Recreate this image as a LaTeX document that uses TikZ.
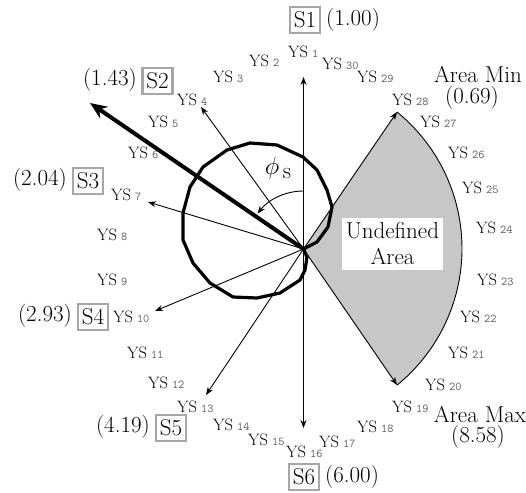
\documentclass[tikz,border=0pt]{standalone}
\usetikzlibrary{arrows.meta}
\newcommand\ysn[1]{YS\hspace{4pt}{\ttfamily\fontsize{12}{13}\selectfont\color{black!65}#1}}
\begin{document}
\begin{tikzpicture}[x=1pt,y=-1pt,
  big/.style={font=\fontsize{23}{26}\selectfont, inner sep=0pt},
  sbox/.style={big, draw=black!35, line width=2.6pt, minimum width=30pt, minimum height=26pt},
  ysl/.style={font=\fontsize{16.5}{18}\selectfont, inner sep=0pt, anchor=base west},
  thinarrow/.style={line width=0.9pt, -{Stealth[length=8pt,width=6pt]}},
  thickarrow/.style={line width=4pt, -{Stealth[length=17pt,width=14pt]}},
  polar/.style={line width=3.2pt, line join=round}
]
\useasboundingbox (0,0) rectangle (526,492);
\coordinate (O) at (303.5,249);
% tips
\coordinate (tup) at (303.5,77);
\coordinate (tdown) at (303.5,428);
\coordinate (t4) at (201,107);
\coordinate (t2) at (90,103);
\coordinate (t7) at (148,202);
\coordinate (t10) at (155,311);
\coordinate (t13) at (206,395);
\coordinate (tmin) at (397,112);
\coordinate (tmax) at (397,385);

% undefined area
\fill[black!22] (O) -- (tmin) arc[start angle=-50.9, end angle=50.9, radius=176] -- cycle;
\draw[line width=0.9pt] (tmin) arc[start angle=-50.9, end angle=50.9, radius=176];
\draw[thinarrow] (O) -- (tmin);
\draw[thinarrow] (O) -- (tmax);

% arrows
\draw[thinarrow] (O) -- (tup);
\draw[thinarrow] (O) -- (tdown);
\draw[thinarrow] (O) -- (t4);
\draw[thinarrow] (O) -- (t7);
\draw[thinarrow] (O) -- (t10);
\draw[thinarrow] (O) -- (t13);
\draw[thickarrow] (O) -- (t2);

% polar curve
\draw[polar] (O) -- (317,242) -- (328,227) -- (332,207) -- (327,190) -- (317,170) -- (303,157) -- (277,145) -- (250,143) -- (227,150) -- (203,167) -- (190,187) -- (183,213) -- (183,240) -- (193,263) -- (210,283) -- (233,297) -- (257,298) -- (280,293) -- (300,280) -- (305,270) -- (307,257) -- cycle;

% phi arc
\coordinate (phA) at (303.5,191);
\draw[line width=0.9pt, -{Stealth[length=8pt,width=6pt]}] (phA) arc[start angle=-90, end angle=-142.5, radius=58];
\node[big] (phi) at (272,168) {$\phi$};
\node[big] (phis) at (287,174) {s};

% undefined label
\node[big, fill=white, align=center, minimum width=101pt, minimum height=52pt] (und) at (392.5,244) {Undefined\\Area};

% S boxes
\node[sbox] (s1) at (305,20) {S1};
\node[big, anchor=west] (v1) at (326,20) {(1.00)};
\node[sbox] (s2) at (157.5,81) {S2};
\node[big, anchor=east] (v2) at (137,80) {(1.43)};
\node[sbox] (s3) at (88,181) {S3};
\node[big, anchor=east] (v3) at (67,180) {(2.04)};
\node[sbox] (s4) at (93,317) {S4};
\node[big, anchor=east] (v4) at (72,316) {(2.93)};
\node[sbox] (s5) at (171,428) {S5};
\node[big, anchor=east] (v5) at (150,427) {(4.19)};
\node[sbox] (s6) at (304,477) {S6};
\node[big, anchor=west] (v6) at (325,477) {(6.00)};

\node[big] (amin) at (478,74) {Area Min};
\node[big] (amin2) at (472,98) {(0.69)};
\node[big] (amax) at (480,414) {Area Max};
\node[big] (amax2) at (478,437) {(8.58)};

% YS labels
\node[ysl] (ys1) at (288,58) {\ysn{1}};
\node[ysl] (ys2) at (249,67) {\ysn{2}};
\node[ysl] (ys3) at (213,83) {\ysn{3}};
\node[ysl] (ys4) at (177,105) {\ysn{4}};
\node[ysl] (ys5) at (148,127) {\ysn{5}};
\node[ysl] (ys6) at (128,158) {\ysn{6}};
\node[ysl] (ys7) at (111,200) {\ysn{7}};
\node[ysl] (ys8) at (97,240) {\ysn{8}};
\node[ysl] (ys9) at (97,285) {\ysn{9}};
\node[ysl] (ys10) at (113,322) {\ysn{10}};
\node[ysl] (ys11) at (127,358) {\ysn{11}};
\node[ysl] (ys12) at (148,388) {\ysn{12}};
\node[ysl] (ys13) at (177,412) {\ysn{13}};
\node[ysl] (ys14) at (213,430) {\ysn{14}};
\node[ysl] (ys15) at (248,445) {\ysn{15}};
\node[ysl] (ys16) at (286,457) {\ysn{16}};
\node[ysl] (ys17) at (319,447) {\ysn{17}};
\node[ysl] (ys18) at (357,432) {\ysn{18}};
\node[ysl] (ys19) at (392,412) {\ysn{19}};
\node[ysl] (ys20) at (425,390) {\ysn{20}};
\node[ysl] (ys21) at (448,358) {\ysn{21}};
\node[ysl] (ys22) at (460,322) {\ysn{22}};
\node[ysl] (ys23) at (477,285) {\ysn{23}};
\node[ysl] (ys24) at (476,233) {\ysn{24}};
\node[ysl] (ys25) at (462,193) {\ysn{25}};
\node[ysl] (ys26) at (448,158) {\ysn{26}};
\node[ysl] (ys27) at (420,127) {\ysn{27}};
\node[ysl] (ys28) at (392,105) {\ysn{28}};
\node[ysl] (ys29) at (357,82) {\ysn{29}};
\node[ysl] (ys30) at (322,70) {\ysn{30}};
\end{tikzpicture}
\end{document}
